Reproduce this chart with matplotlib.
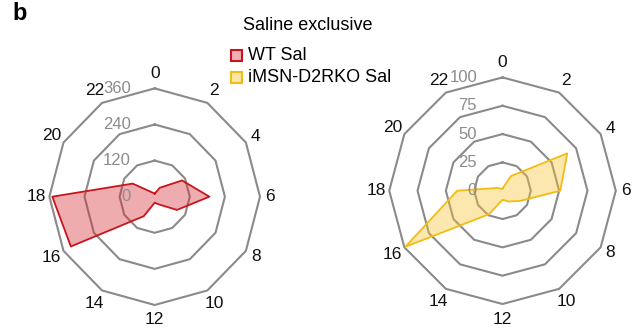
import matplotlib
matplotlib.use("Agg")
import matplotlib.pyplot as plt
from matplotlib.patches import Rectangle
import numpy as np

plt.rcParams['font.family'] = ['Liberation Sans', 'DejaVu Sans']

# Zeitgeber hours around the clock
hours = [0, 2, 4, 6, 8, 10, 12, 14, 16, 18, 20, 22]

# Saline-exclusive activity per time bin
wt_sal = [10, 34, 108, 187, 88, 30, 20, 75, 331, 350, 87, 16]
ko_sal = [2, 15, 66, 51, 18, 11, 8, 24, 99, 40, 5, 2]

wt_ticks = [0, 120, 240, 360]
ko_ticks = [0, 25, 50, 75, 100]

series_names = ['WT Sal', 'iMSN-D2RKO Sal']
legend_title = 'Saline exclusive'

grid_color = '#8a8a8a'
tick_color = '#8c8c8c'
red = '#c8151d'
yellow = '#f2bd12'


def radar(ax, values, ticks, edge, face):
    rmax = ticks[-1]
    theta = 2 * np.pi * np.array(hours + [hours[0]]) / 24.0

    # dodecagon rings
    for r in ticks[1:]:
        ax.plot(r * np.sin(theta), r * np.cos(theta), color=grid_color,
                lw=1.5, clip_on=False, zorder=1)

    v = np.array(values + [values[0]], dtype=float)
    ax.fill(v * np.sin(theta), v * np.cos(theta), color=face, alpha=0.38,
            lw=0, zorder=2, clip_on=False)
    ax.plot(v * np.sin(theta), v * np.cos(theta), color=edge, lw=1.3,
            zorder=3, clip_on=False)

    for r in ticks:
        ax.text(-0.225 * rmax, r, str(r), ha='right', va='center',
                color=tick_color, fontsize=12, zorder=4)

    # hour labels sit just outside the outer ring
    for h, t in zip(hours, theta[:-1]):
        s, c = np.sin(t), np.cos(t)
        d = 10 + 5 * c**2 + 3 * (len(str(h)) - 1) * s**2
        d *= 0.72
        ax.annotate(str(h), (rmax * s, rmax * c), xytext=(d * s, d * c),
                    textcoords='offset points', ha='center', va='center',
                    fontsize=12.5, color='#111111', annotation_clip=False)

    ax.set_xlim(-rmax, rmax)
    ax.set_ylim(-rmax, rmax)
    ax.axis('off')


fig = plt.figure(figsize=(6.34, 3.35), dpi=100)
ax1 = fig.add_axes([0.0779, 0.0896, 0.3322, 0.6466])
ax2 = fig.add_axes([0.6139, 0.0925, 0.3574, 0.6764])

radar(ax1, wt_sal, wt_ticks, red, '#d7262d')
radar(ax2, ko_sal, ko_ticks, yellow, '#f9c22e')

# legend drawn by hand in figure coordinates
W, H = 634.0, 335.0
fig.text(308 / W, 1 - 25 / H, legend_title, ha='center', va='center',
         fontsize=13)
swatches = [('#eeb0b2', red), ('#fbe5a6', yellow)]
for i, (name, (fc, ec)) in enumerate(zip(series_names, swatches)):
    yc = 55.5 + 22 * i
    fig.patches.append(Rectangle((230.5 / W, 1 - (yc + 5.3) / H), 11 / W, 10.6 / H,
                                 transform=fig.transFigure, facecolor=fc,
                                 edgecolor=ec, lw=1.5))
    fig.text(248 / W, 1 - yc / H, name, ha='left', va='center', fontsize=13)

fig.text(0.02, 0.995, 'b', fontsize=17, fontweight='bold', va='top')

fig.savefig('out.png', dpi=100)
